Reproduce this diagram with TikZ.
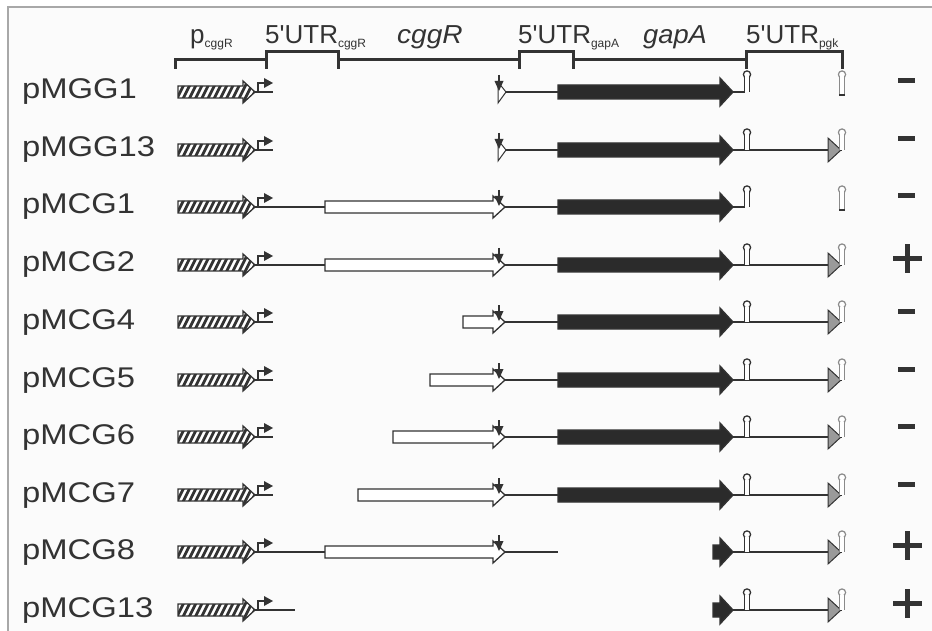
\documentclass[tikz,border=0pt]{standalone}
\usepackage{fontspec}
\setmainfont{Liberation Sans}
\definecolor{ink}{HTML}{333333}
\definecolor{gfill}{HTML}{2B2B2B}
\definecolor{trifill}{HTML}{9A9A9A}
\definecolor{hpgray}{HTML}{8A8A8A}
\definecolor{framec}{HTML}{A8A8A8}
\definecolor{bgc}{HTML}{FBFBFB}
\newcommand\sbs[1]{\raisebox{-4pt}{\fontsize{12}{12}\selectfont #1}}
\tikzset{
  lbl/.style={anchor=base west, inner sep=0pt, font=\fontsize{28.5}{28.5}\selectfont, text=ink},
  hdr/.style={anchor=base west, inner sep=0pt, font=\fontsize{26}{26}\selectfont, text=ink},
  dna/.style={draw=ink, line width=1.8pt},
  outl/.style={draw=ink, line width=1.3pt, line join=miter},
  bracket/.style={draw=ink, line width=3pt, line cap=butt, line join=miter},
}
% promoter (hatched) + transcription start
\newcommand\promo[1]{%
  \begin{scope}
    \clip (178,#1-6)--(243,#1-6)--(243,#1-11)--(255,#1)--(243,#1+11)--(243,#1+6)--(178,#1+6)--cycle;
    \fill[white] (170,#1-15) rectangle (262,#1+15);
    \foreach \k in {0,...,15} \draw[line width=2.8pt, ink] (168+\k*6.2,#1+12)--(180+\k*6.2,#1-12);
  \end{scope}
  \draw[outl] (178,#1-6)--(243,#1-6)--(243,#1-11)--(255,#1)--(243,#1+11)--(243,#1+6)--(178,#1+6)--cycle;
  \draw[dna] (255,#1)--(273,#1);
  \draw[draw=ink, line width=1.5pt] (258,#1)--(258,#1-9)--(265,#1-9);
  \fill[ink] (264,#1-14)--(273,#1-9)--(264,#1-4)--cycle;
}
\newcommand\dnaline[3]{\draw[dna] (#2,#1)--(#3,#1);}
\newcommand\cgggene[2]{%
  \draw[outl, fill=white] (#2,#1-6)--(493,#1-6)--(493,#1-11)--(505,#1)--(493,#1+11)--(493,#1+6)--(#2,#1+6)--cycle;}
\newcommand\cggstub[1]{%
  \draw[outl, fill=white, line width=1pt] (498,#1-10)--(506,#1)--(498,#1+11)--cycle;}
\newcommand\cutarrow[1]{%
  \draw[ink, line width=1.7pt] (499,#1-17)--(499,#1-7);
  \fill[ink] (494.5,#1-11)--(503.5,#1-11)--(499,#1-1)--cycle;}
\newcommand\gapgene[2]{%
  \draw[outl, fill=gfill] (#2,#1-7)--(720,#1-7)--(720,#1-14)--(733,#1)--(720,#1+14)--(720,#1+7)--(#2,#1+7)--cycle;}
\newcommand\hpA[1]{%
  \draw[ink, line width=1.3pt, fill=white] (744.5,#1)--(744.5,#1-15)--(749.5,#1-15)--(749.5,#1);
  \draw[ink, line width=1.3pt, fill=white] (747,#1-17.5) circle[radius=3.6];
  \fill[white] (745.2,#1-15.5) rectangle (748.8,#1-13);}
\newcommand\hpB[1]{%
  \draw[hpgray, line width=1.2pt, fill=white] (839.5,#1)--(839.5,#1-15)--(844.5,#1-15)--(844.5,#1);
  \draw[hpgray, line width=1.2pt, fill=white] (842,#1-17.5) circle[radius=3.6];
  \fill[white] (840.2,#1-15.5) rectangle (843.8,#1-13);}
\newcommand\hpC[1]{%
  \draw[hpgray, line width=1.2pt, fill=white] (839.5,#1+3)--(839.5,#1-15)--(844.5,#1-15)--(844.5,#1+3);
  \draw[hpgray, line width=1.2pt, fill=white] (842,#1-17.5) circle[radius=3.6];
  \fill[white] (840.2,#1-15.5) rectangle (843.8,#1-13);
  \draw[ink, line width=1.8pt] (839,#1+3)--(845,#1+3);}
\newcommand\pgktri[1]{%
  \draw[ink, line width=1pt, fill=trifill] (828,#1-12)--(841,#1)--(828,#1+12)--cycle;}
\newcommand\sgnminus[1]{\fill[ink] (898,#1-13.5) rectangle (915,#1-8.5);}
\newcommand\sgnplus[1]{\fill[ink] (893,#1-9) rectangle (922,#1-4); \fill[ink] (905,#1-21) rectangle (910,#1+8);}
\begin{document}
\begin{tikzpicture}[x=1pt,y=-1pt]
\useasboundingbox (0,0) rectangle (932,631);
\fill[bgc] (8,7) rectangle (932,631);
\draw[framec, line width=1.5pt] (8,631)--(8,7)--(932,7);
% header
\node[hdr] (hp) at (190,44) {p\sbs{cggR}};
\node[hdr] (hu1) at (265,44) {5\textquotesingle UTR\sbs{cggR}};
\node[hdr] (hc) at (397,44) {\itshape\scalebox{1.08}[1]{cggR}};
\node[hdr] (hu2) at (518,44) {5\textquotesingle UTR\sbs{gapA}};
\node[hdr] (hg) at (643,44) {\itshape\scalebox{1.05}[1]{gapA}};
\node[hdr] (hu3) at (746,44) {5\textquotesingle UTR\sbs{pgk}};
\draw[bracket] (175,69)--(175,60)--(266,60)--(266,52)--(338,52)--(338,60)--(519,60)--(519,52)--(573,52)--(573,60)--(746,60)--(746,52)--(842,52)--(842,69);
\foreach \xx in {266,338,519,573,746} \draw[bracket] (\xx,58)--(\xx,69);
% labels
\foreach \nm/\yy in {pMGG1/92, pMGG13/150, pMCG1/207, pMCG2/265, pMCG4/322, pMCG5/380, pMCG6/437, pMCG7/495, pMCG8/552, pMCG13/610}
  \node[lbl] (l\nm) at (22,\yy+7) {\scalebox{1.15}[1]{\nm}};
% pMGG1
\promo{92}\dnaline{92}{505}{558}\gapgene{92}{558}\dnaline{92}{733}{745}\cggstub{92}\cutarrow{92}\hpA{92}\hpC{92}\sgnminus{92}
% pMGG13
\promo{150}\dnaline{150}{505}{558}\dnaline{150}{733}{842}\gapgene{150}{558}\cggstub{150}\cutarrow{150}\hpA{150}\pgktri{150}\hpB{150}\sgnminus{150}
% pMCG1
\promo{207}\dnaline{207}{273}{325}\dnaline{207}{505}{558}\dnaline{207}{733}{745}\cgggene{207}{325}\cutarrow{207}\gapgene{207}{558}\hpA{207}\hpC{207}\sgnminus{207}
% pMCG2
\promo{265}\dnaline{265}{273}{325}\dnaline{265}{505}{558}\dnaline{265}{733}{842}\cgggene{265}{325}\cutarrow{265}\gapgene{265}{558}\hpA{265}\pgktri{265}\hpB{265}\sgnplus{265}
% pMCG4
\promo{322}\dnaline{322}{505}{558}\dnaline{322}{733}{842}\cgggene{322}{463}\cutarrow{322}\gapgene{322}{558}\hpA{322}\pgktri{322}\hpB{322}\sgnminus{322}
% pMCG5
\promo{380}\dnaline{380}{505}{558}\dnaline{380}{733}{842}\cgggene{380}{430}\cutarrow{380}\gapgene{380}{558}\hpA{380}\pgktri{380}\hpB{380}\sgnminus{380}
% pMCG6
\promo{437}\dnaline{437}{505}{558}\dnaline{437}{733}{842}\cgggene{437}{393}\cutarrow{437}\gapgene{437}{558}\hpA{437}\pgktri{437}\hpB{437}\sgnminus{437}
% pMCG7
\promo{495}\dnaline{495}{505}{558}\dnaline{495}{733}{842}\cgggene{495}{358}\cutarrow{495}\gapgene{495}{558}\hpA{495}\pgktri{495}\hpB{495}\sgnminus{495}
% pMCG8
\promo{552}\dnaline{552}{273}{325}\dnaline{552}{505}{558}\dnaline{552}{733}{842}\cgggene{552}{325}\cutarrow{552}\gapgene{552}{713}\hpA{552}\pgktri{552}\hpB{552}\sgnplus{552}
% pMCG13
\promo{610}\dnaline{610}{273}{295}\dnaline{610}{733}{842}\gapgene{610}{713}\hpA{610}\pgktri{610}\hpB{610}\sgnplus{610}
\end{tikzpicture}
\end{document}
